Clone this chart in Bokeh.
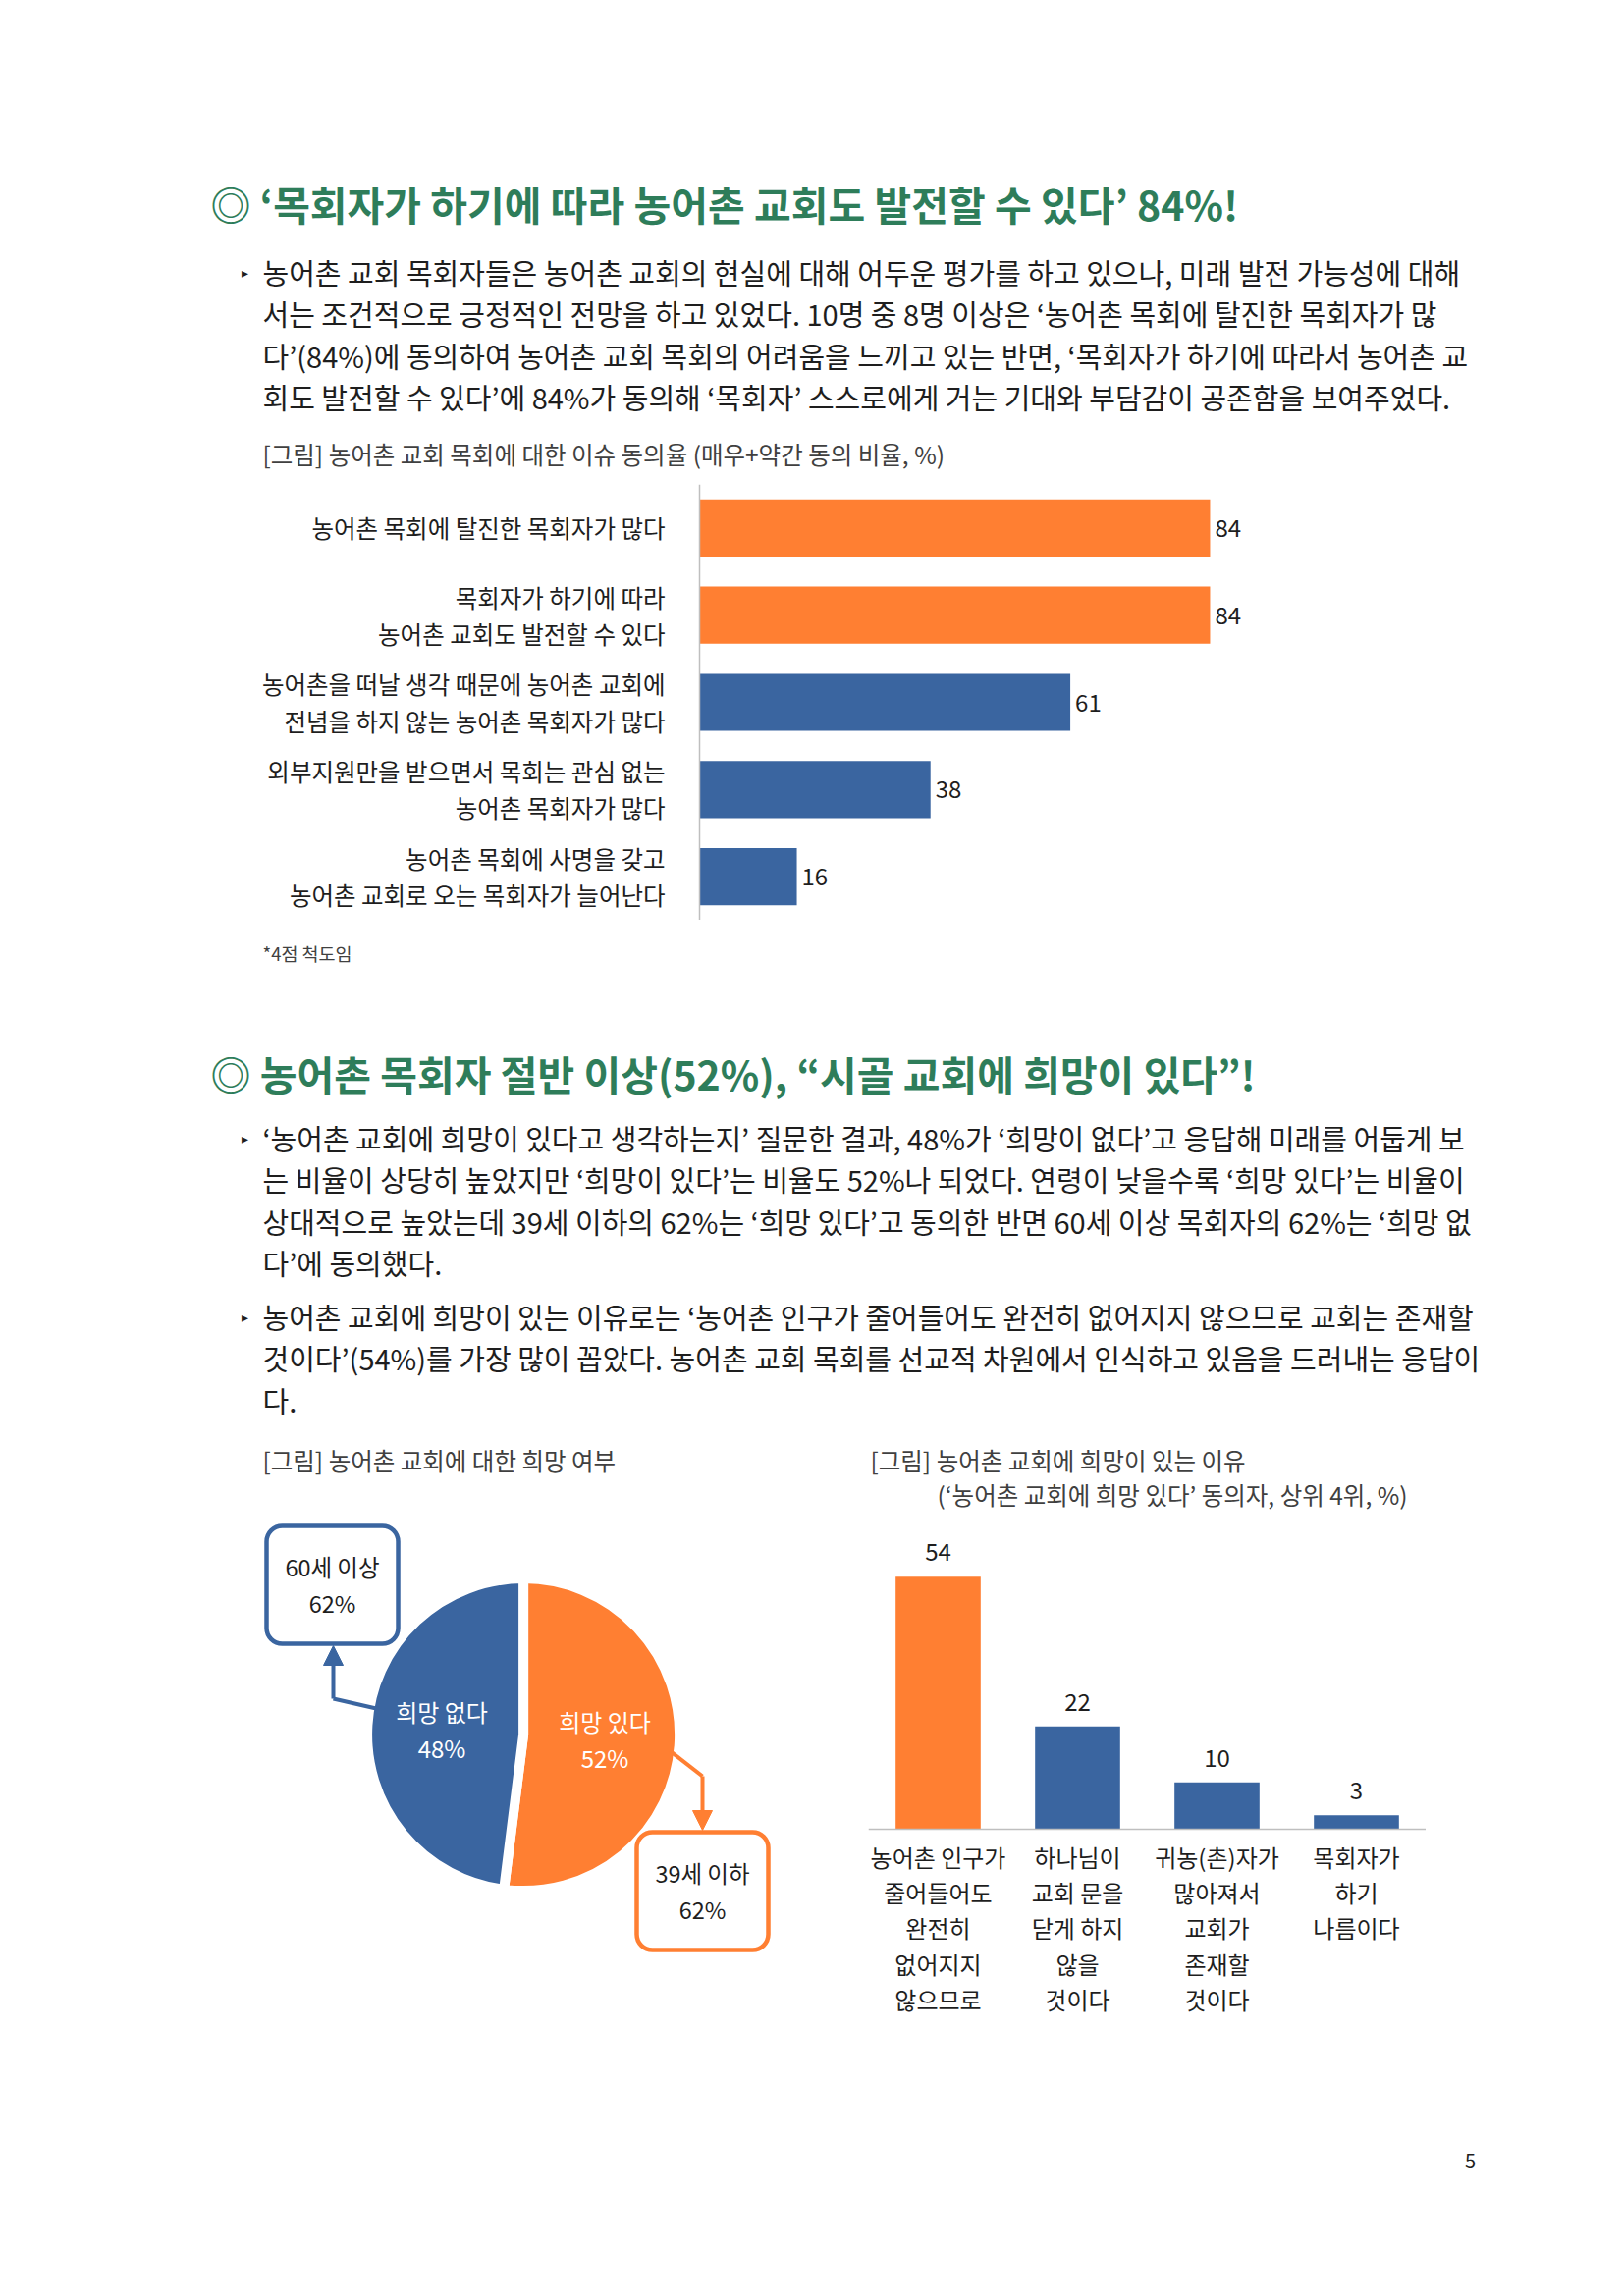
import numpy as np
from bokeh.plotting import figure
from bokeh.layouts import column, row
from bokeh.models import (Range1d, FactorRange, Span, BoxAnnotation, Arrow,
                          NormalHead, ColumnDataSource)
from bokeh.core.properties import value
from bokeh.embed import file_html
from bokeh.resources import INLINE

# ---------------- data ----------------
heading1 = "◎ ‘목회자가 하기에 따라 농어촌 교회도 발전할 수 있다’ 84%!"
para1 = [
    "농어촌 교회 목회자들은 농어촌 교회의 현실에 대해 어두운 평가를 하고 있으나, 미래 발전 가능성에 대해",
    "서는 조건적으로 긍정적인 전망을 하고 있었다. 10명 중 8명 이상은 ‘농어촌 목회에 탈진한 목회자가 많",
    "다’(84%)에 동의하여 농어촌 교회 목회의 어려움을 느끼고 있는 반면, ‘목회자가 하기에 따라서 농어촌 교",
    "회도 발전할 수 있다’에 84%가 동의해 ‘목회자’ 스스로에게 거는 기대와 부담감이 공존함을 보여주었다.",
]
chart1_title = "[그림] 농어촌 교회 목회에 대한 이슈 동의율 (매우+약간 동의 비율, %)"
issue_labels = [
    "농어촌 목회에 탈진한 목회자가 많다",
    "목회자가 하기에 따라\n농어촌 교회도 발전할 수 있다",
    "농어촌을 떠날 생각 때문에 농어촌 교회에\n전념을 하지 않는 농어촌 목회자가 많다",
    "외부지원만을 받으면서 목회는 관심 없는\n농어촌 목회자가 많다",
    "농어촌 목회에 사명을 갖고\n농어촌 교회로 오는 목회자가 늘어난다",
]
issue_values = [84, 84, 61, 38, 16]
note1 = "*4점 척도임"

heading2 = "◎ 농어촌 목회자 절반 이상(52%), “시골 교회에 희망이 있다”!"
para2 = [
    "‘농어촌 교회에 희망이 있다고 생각하는지’ 질문한 결과, 48%가 ‘희망이 없다’고 응답해 미래를 어둡게 보",
    "는 비율이 상당히 높았지만 ‘희망이 있다’는 비율도 52%나 되었다. 연령이 낮을수록 ‘희망 있다’는 비율이",
    "상대적으로 높았는데 39세 이하의 62%는 ‘희망 있다’고 동의한 반면 60세 이상 목회자의 62%는 ‘희망 없",
    "다’에 동의했다.",
]
para3 = [
    "농어촌 교회에 희망이 있는 이유로는 ‘농어촌 인구가 줄어들어도 완전히 없어지지 않으므로 교회는 존재할",
    "것이다’(54%)를 가장 많이 꼽았다. 농어촌 교회 목회를 선교적 차원에서 인식하고 있음을 드러내는 응답이",
    "다.",
]
pie_title = "[그림] 농어촌 교회에 대한 희망 여부"
hope_labels = ["희망 있다", "희망 없다"]
hope_values = [52, 48]
age_labels = ["39세 이하", "60세 이상"]
age_values = [62, 62]

reason_title = ["[그림] 농어촌 교회에 희망이 있는 이유",
                "(‘농어촌 교회에 희망 있다’ 동의자, 상위 4위, %)"]
reason_labels = [
    "농어촌 인구가\n줄어들어도\n완전히\n없어지지\n않으므로",
    "하나님이\n교회 문을\n닫게 하지\n않을\n것이다",
    "귀농(촌)자가\n많아져서\n교회가\n존재할\n것이다",
    "목회자가\n하기\n나름이다",
]
reason_values = [54, 22, 10, 3]
page_number = "5"

# ---------------- style ----------------
FONT = "Noto Sans CJK KR"
GREEN = "#2E7D5A"
ORANGE = "#FF7F32"
BLUE = "#3A65A0"
INK = "#1E1E1E"
GRAY = "#404040"
AXIS = "#BFBFBF"
W = 1637


def canvas(w, h, flip=True):
    p = figure(width=w, height=h, x_range=Range1d(0, w),
               y_range=Range1d(h, 0) if flip else Range1d(0, h),
               output_backend="svg", toolbar_location=None,
               x_axis_location=None, y_axis_location=None, min_border=0)
    p.outline_line_color = None
    p.grid.visible = False
    return p


def put(p, x, y, s, size, color=INK, align="left", baseline="middle",
        bold=False, lh=1.2):
    p.text(x=[x], y=[y], text=[s], text_font=value(FONT),
           text_font_size=f"{size}px", text_color=color, text_align=align,
           text_baseline=baseline, text_font_style="bold" if bold else "normal",
           text_line_height=lh)


BODY = 29
PITCH = 42.6
HEAD = 41
CHART = 24.5

# ---------------- top text block ----------------
top = canvas(W, 493)
put(top, 214, 206.5, heading1, HEAD, GREEN, bold=True)
put(top, 245, 276, "▸", 14)
for i, line in enumerate(para1):
    put(top, 267, 276 + i * PITCH, line, BODY)
put(top, 267, 462, chart1_title, CHART, GRAY)

# ---------------- horizontal bar chart ----------------
ppu = 6.19
zero = 712
hb = figure(width=W, height=444, output_backend="svg", toolbar_location=None,
            x_range=Range1d(-zero / ppu, (W - zero) / ppu),
            y_range=FactorRange(factors=issue_labels[::-1]),
            x_axis_location=None, y_axis_location=None, min_border=0)
hb.outline_line_color = None
hb.grid.visible = False
top_val = max(issue_values)
hsrc = ColumnDataSource(dict(
    label=issue_labels, val=issue_values,
    txt=[str(v) for v in issue_values],
    color=[ORANGE if v == top_val else BLUE for v in issue_values]))
hb.hbar(y="label", left=0, right="val", height=0.655, fill_color="color",
        line_color=None, source=hsrc)
hb.add_layout(Span(location=0, dimension="height", line_color=AXIS,
                   line_width=1.5))
hb.text(x="val", y="label", text="txt", x_offset=5, text_baseline="middle",
        text_font=value(FONT), text_font_size="24px", text_color=INK,
        source=hsrc)
hb.text(x=0, y="label", text="label", x_offset=-35, text_align="right",
        text_baseline="middle", text_font=value(FONT),
        text_font_size=f"{CHART}px", text_color=INK, text_line_height=1.06,
        source=hsrc)

# ---------------- middle text block (page y 945..1555) ----------------
mid = canvas(W, 610)
put(mid, 267, 33.5, note1, 18.5, GRAY)
put(mid, 214, 155, heading2, HEAD, GREEN, bold=True)
put(mid, 245, 221, "▸", 14)
for i, line in enumerate(para2):
    put(mid, 267, 221 + i * PITCH, line, BODY)
put(mid, 245, 403, "▸", 14)
for i, line in enumerate(para3):
    put(mid, 267, 403 + i * PITCH, line, BODY)
put(mid, 267, 550, pie_title, CHART, GRAY)
put(mid, 886, 550, reason_title[0], CHART, GRAY)
put(mid, 954, 585, reason_title[1], CHART, GRAY)

# ---------------- pie chart (page y 1555..2100) ----------------
PH = 545
pie = canvas(884, PH, flip=False)
cx, cy, R = 532.6, 325.4, 154
fr = np.array(hope_values, dtype=float) / sum(hope_values)
ends = np.pi / 2 - np.concatenate([[0], np.cumsum(fr)[:-1]]) * 2 * np.pi
starts = ends - fr * 2 * np.pi
psrc = ColumnDataSource(dict(start=starts, end=ends,
                             color=[ORANGE, BLUE]))
pie.wedge(x=cx, y=cy, radius=R + 5, start_angle="start", end_angle="end",
          fill_color="color", line_color="white", line_width=10, source=psrc)
midang = (starts + ends) / 2
lr = 0.54 * R
pie.text(x=cx + lr * np.cos(midang), y=cy + lr * np.sin(midang),
         text=[f"{l}\n{v}%" for l, v in zip(hope_labels, hope_values)],
         text_align="center", text_baseline="middle", text_color="white",
         text_font=value(FONT), text_font_size="24px", text_line_height=1.06)

# callouts (39세 이하 -> orange, 60세 이상 -> blue)
boxes = [  # left, right, top, bottom (fig coords), colour, anchor angle, elbow
    (648, 782, 226, 106, ORANGE, np.deg2rad(-6.3), 715, 283),
    (271, 405, 538, 418, BLUE, np.deg2rad(170.0), 339, 362),
]
for (l, r, t, b, col, ang, ex, ey), lab, v in zip(boxes, age_labels, age_values):
    pie.add_layout(BoxAnnotation(left=l, right=r, top=t, bottom=b,
                                 fill_alpha=0, line_color=col, line_alpha=1,
                                 line_width=4.5, border_radius=16))
    sx, sy = cx + (R - 4) * np.cos(ang), cy + (R - 4) * np.sin(ang)
    pie.add_layout(Arrow(end=None, x_start=sx, y_start=sy, x_end=ex, y_end=ey,
                         line_color=col, line_width=4))
    tip = b - 2 if ey < b else t + 2
    pie.add_layout(Arrow(end=NormalHead(size=20, fill_color=col, line_color=col),
                         x_start=ex, y_start=ey, x_end=ex, y_end=tip,
                         line_color=col, line_width=4))
    pie.text(x=[(l + r) / 2], y=[(t + b) / 2], text=[f"{lab}\n{v}%"],
             text_align="center", text_baseline="middle", text_color=INK,
             text_font=value(FONT), text_font_size="23.5px",
             text_line_height=1.08)

# ---------------- vertical bar chart ----------------
ppv = 4.765
base = 1871 - 1555
vb = figure(width=568, height=PH, output_backend="svg", toolbar_location=None,
            x_range=FactorRange(factors=reason_labels),
            y_range=Range1d(-(PH - base) / ppv, base / ppv),
            x_axis_location=None, y_axis_location=None, min_border=0)
vb.outline_line_color = None
vb.grid.visible = False
rtop = max(reason_values)
vsrc = ColumnDataSource(dict(
    label=reason_labels, val=reason_values,
    txt=[str(v) for v in reason_values],
    color=[ORANGE if v == rtop else BLUE for v in reason_values]))
vb.vbar(x="label", top="val", bottom=0, width=0.61, fill_color="color",
        line_color=None, source=vsrc)
vb.add_layout(Span(location=0, dimension="width", line_color=AXIS,
                   line_width=1.5))
vb.text(x="label", y="val", text="txt", y_offset=-25, text_align="center",
        text_baseline="middle", text_font=value(FONT), text_font_size="24px",
        text_color=INK, source=vsrc)
vb.text(x="label", y=0, text="label", y_offset=10, text_align="center",
        text_baseline="top", text_font=value(FONT), text_font_size="24px",
        text_color=INK, text_line_height=1.04, source=vsrc)

# ---------------- bottom ----------------
bottom = canvas(W, 231)
put(bottom, 1497, 109, page_number, 20, INK, align="center")

layout = column(top, hb, mid, row(pie, vb), bottom)
open("out.html", "w").write(file_html(layout, INLINE, "농어촌 목회자"))
